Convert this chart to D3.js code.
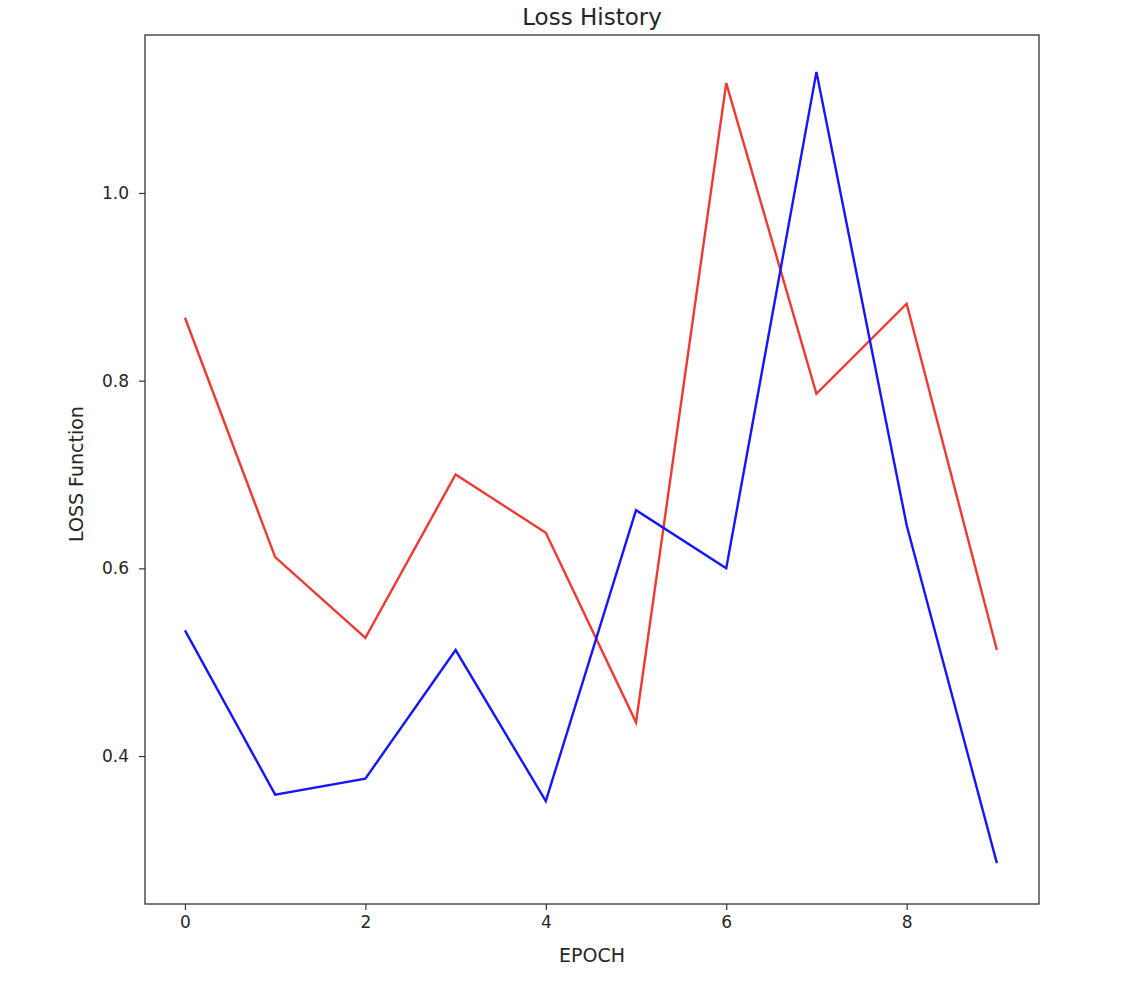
<!DOCTYPE html>
<html><head><meta charset="utf-8">
<script src="https://cdn.jsdelivr.net/npm/d3@7"></script>
<style>body{margin:0;background:#fff;} text{font-family:"DejaVu Sans",sans-serif;fill:#262626;}</style>
</head><body>
<svg id="c" width="1130" height="988"></svg>
<script>
const epochs = [0,1,2,3,4,5,6,7,8,9];
const redSeries = [0.867,0.612,0.526,0.700,0.638,0.436,1.117,0.786,0.882,0.513];
const blueSeries = [0.534,0.359,0.376,0.513,0.352,0.662,0.600,1.129,0.646,0.286];
const xTicks = [0,2,4,6,8];
const yTicks = [0.4,0.6,0.8,1.0];

const svg = d3.select("#c");
const L=145, R=1039, T=35, B=904;
const x = d3.scaleLinear().domain([-0.443,9.467]).range([L,R]);
const y = d3.scaleLinear().domain([0.2424,1.1683]).range([B,T]);

const line = d3.line().x((d,i)=>x(epochs[i])).y(d=>y(d));
svg.append("path").datum(redSeries).attr("d",line).attr("fill","none").attr("stroke","#ee3a32").attr("stroke-width",2.4);
svg.append("path").datum(blueSeries).attr("d",line).attr("fill","none").attr("stroke","#1515ff").attr("stroke-width",2.4);

const xa = svg.append("g").attr("transform",`translate(0,${B})`)
  .call(d3.axisBottom(x).tickValues(xTicks).tickFormat(d3.format("d")).tickSize(6).tickPadding(6));
const ya = svg.append("g").attr("transform",`translate(${L},0)`)
  .call(d3.axisLeft(y).tickValues(yTicks).tickFormat(d3.format(".1f")).tickSize(6).tickPadding(10));
[xa,ya].forEach(a=>{a.select(".domain").remove();a.selectAll("line").attr("stroke","#333").attr("stroke-width",1.2);
  a.selectAll("text").style("font-family","DejaVu Sans").style("font-size","17px").attr("fill","#262626");});

svg.append("rect").attr("x",L).attr("y",T).attr("width",R-L).attr("height",B-T)
  .attr("fill","none").attr("stroke","#333").attr("stroke-width",1.3);

svg.append("text").attr("x",(L+R)/2).attr("y",25).attr("text-anchor","middle").style("font-size","23px").text("Loss History");
svg.append("text").attr("x",(L+R)/2).attr("y",962).attr("text-anchor","middle").style("font-size","19px").text("EPOCH");
svg.append("text").attr("transform",`translate(83,474) rotate(-90)`).attr("text-anchor","middle").style("font-size","19px").text("LOSS Function");
</script>
</body></html>
